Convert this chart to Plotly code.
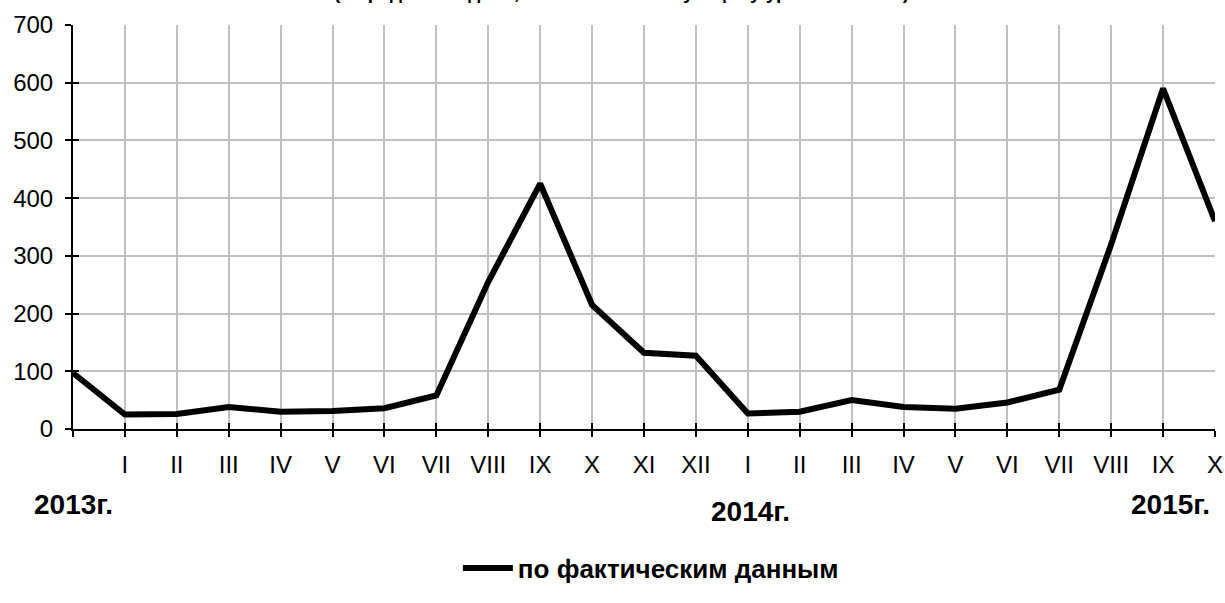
import plotly.graph_objects as go

# data
positions = list(range(23))
tick_labels = ["", "I", "II", "III", "IV", "V", "VI", "VII", "VIII", "IX", "X", "XI", "XII",
               "I", "II", "III", "IV", "V", "VI", "VII", "VIII", "IX", "X"]
values = [97, 25, 26, 38, 30, 31, 36, 58, 255, 425, 215, 132, 127,
          27, 30, 50, 38, 35, 46, 68, 320, 590, 360]
y_ticks = [0, 100, 200, 300, 400, 500, 600, 700]
year_labels = ["2013г.", "2014г.", "2015г."]
year_pos = [0, 13.05, 21.15]
year_offsets = [-0.188, -0.205, -0.188]
series_name = "по фактическим данным"
title_text = "(в среднем за день, в % к соответствующему уровню 2012 г.)"

FONT = "Liberation Sans, Arial, sans-serif"

fig = go.Figure()
fig.add_trace(go.Scatter(x=positions, y=values, mode="lines", name=f"<b>{series_name}</b>",
                         line=dict(color="black", width=6), showlegend=True))
# invisible trace on overlay axes so the crossing tick marks are drawn
fig.add_trace(go.Scatter(x=[positions[0]], y=[y_ticks[0]], xaxis="x2", yaxis="y2",
                         mode="markers", marker=dict(opacity=0), showlegend=False,
                         hoverinfo="skip"))

for lbl, xp, yo in zip(year_labels, year_pos, year_offsets):
    fig.add_annotation(x=xp, y=yo, xref="x", yref="paper", text=f"<b>{lbl}</b>",
                       showarrow=False, font=dict(family=FONT, size=28, color="black"),
                       xanchor="center", yanchor="middle")

fig.add_annotation(x=0.48, y=1.05, xref="paper", yref="paper", text=f"<b>{title_text}</b>",
                   showarrow=False, font=dict(family=FONT, size=19, color="black"),
                   xanchor="center", yanchor="bottom")

fig.update_layout(
    width=1225, height=603,
    margin=dict(l=73, r=10, t=25, b=174, autoexpand=False),
    paper_bgcolor="white", plot_bgcolor="white",
    font=dict(family=FONT, size=24, color="black"),
    showlegend=True,
    legend=dict(orientation="h", x=0.506, xanchor="center", y=-0.344, yanchor="middle",
                font=dict(family=FONT, size=26, color="black"),
                itemwidth=50),
    xaxis=dict(range=[0, 22], tickvals=positions, ticktext=tick_labels, automargin=False,
               showgrid=True, gridcolor="#c0c0c0", gridwidth=2,
               showline=True, linecolor="black", linewidth=2,
               ticks="outside", ticklen=6, tickwidth=2, tickcolor="black",
               ticklabelstandoff=7, zeroline=False,
               tickfont=dict(family=FONT, size=24)),
    yaxis=dict(range=[0, 700], tickvals=y_ticks, automargin=False,
               showgrid=True, gridcolor="#c0c0c0", gridwidth=2,
               showline=True, linecolor="black", linewidth=2,
               ticks="outside", ticklen=6, tickwidth=2, tickcolor="black",
               ticklabelstandoff=7, zeroline=False,
               tickfont=dict(family=FONT, size=24)),
    xaxis2=dict(overlaying="x", range=[0, 22], tickvals=positions, showticklabels=False,
                showgrid=False, zeroline=False, ticks="inside", ticklen=6, tickwidth=2,
                tickcolor="black", side="bottom", anchor="y2", automargin=False),
    yaxis2=dict(overlaying="y", range=[0, 700], tickvals=y_ticks, automargin=False,
                showticklabels=False, showgrid=False, zeroline=False, ticks="inside",
                ticklen=6, tickwidth=2, tickcolor="black", side="left", anchor="x2"),
)

fig.write_html("out.html",
               config={"displayModeBar": False, "responsive": False},
               post_script="document.body.style.margin='0';document.body.style.overflow='hidden';"
                           "document.documentElement.style.overflow='hidden';")
